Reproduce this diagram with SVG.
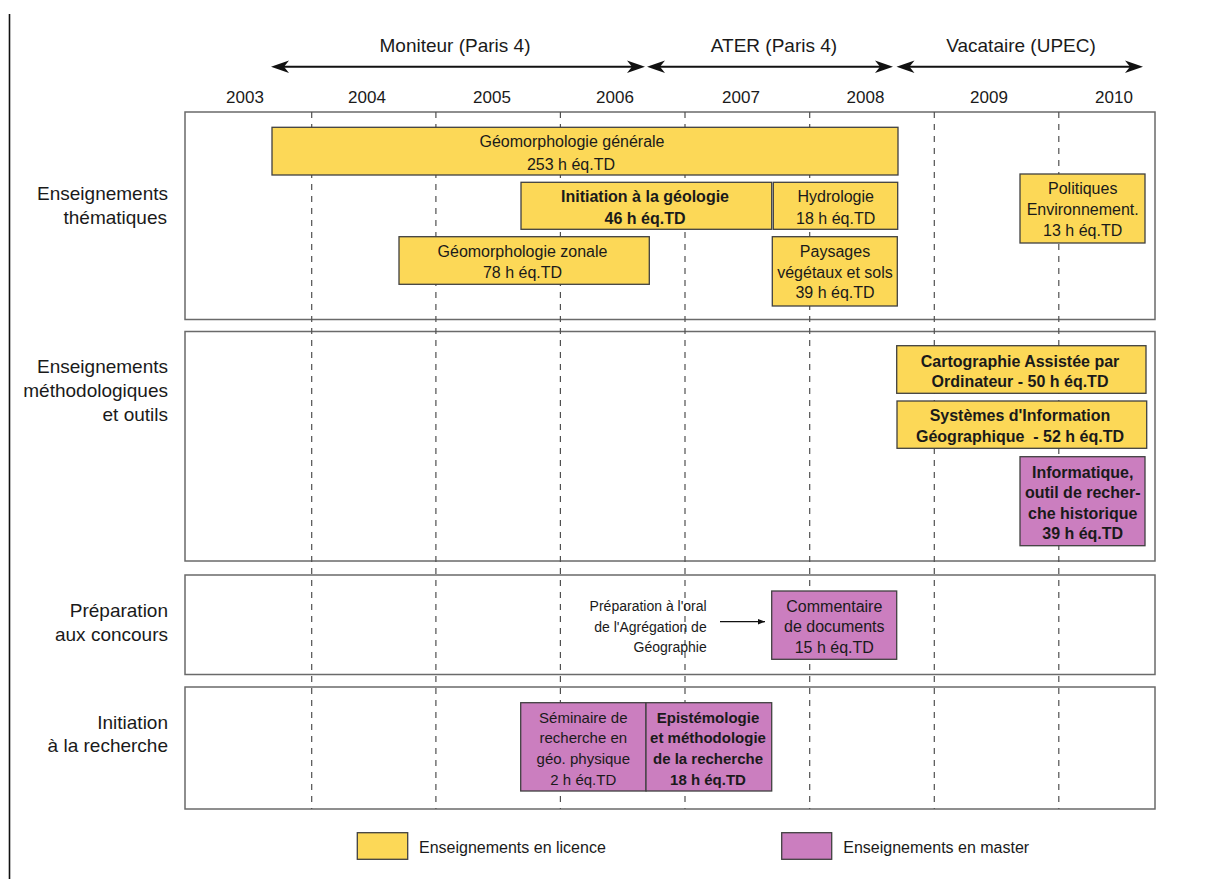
<svg xmlns="http://www.w3.org/2000/svg" width="1206" height="879" viewBox="0 0 1206 879">
<style>
text{font-family:"Liberation Sans",Arial,sans-serif;fill:#1a1a1a}
.yr{font-size:17px;text-anchor:middle}
.role{font-size:19px;text-anchor:middle}
.row{font-size:19px;text-anchor:end}
.t{font-size:16px;text-anchor:middle}
.t15{font-size:15px;text-anchor:middle}
.b{font-weight:bold}
.sm{font-size:14px;text-anchor:end}
.leg{font-size:16px}
.sec{fill:#fff;stroke:#6a6a6a;stroke-width:1.5}
.lic{fill:#FCD857;stroke:#404040;stroke-width:1.3}
.mas{fill:#CB7EBF;stroke:#404040;stroke-width:1.3}
.dash{stroke:#505050;stroke-width:1.2;stroke-dasharray:6 6}
.arr{stroke:#111;stroke-width:2}
</style>
<defs>
<marker id="sa" viewBox="0 0 10 10" refX="10" refY="5" markerWidth="7" markerHeight="7" markerUnits="userSpaceOnUse" orient="auto"><path d="M0,1 L10,5 L0,9 Z" fill="#111"/></marker>
</defs>
<rect width="1206" height="879" fill="#fff"/>
<line x1="9.5" y1="14" x2="9.5" y2="879" stroke="#111" stroke-width="1.6"/>

<g id="sections">
<rect class="sec" x="185" y="112" width="970" height="207.5"/>
<rect class="sec" x="185" y="331.5" width="970" height="229.5"/>
<rect class="sec" x="185" y="575" width="970" height="99.5"/>
<rect class="sec" x="185" y="687" width="970" height="122"/>
</g>

<g id="grid">
<line class="dash" x1="311.7" y1="112" x2="311.7" y2="809"/>
<line class="dash" x1="435.9" y1="112" x2="435.9" y2="809"/>
<line class="dash" x1="560.4" y1="112" x2="560.4" y2="809"/>
<line class="dash" x1="685" y1="112" x2="685" y2="809"/>
<line class="dash" x1="809.7" y1="112" x2="809.7" y2="809"/>
<line class="dash" x1="934.3" y1="112" x2="934.3" y2="809"/>
<line class="dash" x1="1058.8" y1="112" x2="1058.8" y2="809"/>
</g>

<g id="years">
<text class="yr" x="245" y="103">2003</text>
<text class="yr" x="367" y="103">2004</text>
<text class="yr" x="492" y="103">2005</text>
<text class="yr" x="615" y="103">2006</text>
<text class="yr" x="741" y="103">2007</text>
<text class="yr" x="865.5" y="103">2008</text>
<text class="yr" x="989" y="103">2009</text>
<text class="yr" x="1114" y="103">2010</text>
</g>

<g id="roles">
<text class="role" x="455" y="52">Moniteur (Paris 4)</text>
<text class="role" x="774" y="52">ATER (Paris 4)</text>
<text class="role" x="1021" y="52">Vacataire (UPEC)</text>
<line class="arr" x1="280" y1="66.7" x2="636" y2="66.7"/>
<path d="M271,66.7 L289,60.5 L284,66.7 L289,72.9 Z" fill="#111"/>
<path d="M645,66.7 L627,60.5 L632,66.7 L627,72.9 Z" fill="#111"/>
<line class="arr" x1="656" y1="66.7" x2="884" y2="66.7"/>
<path d="M647,66.7 L665,60.5 L660,66.7 L665,72.9 Z" fill="#111"/>
<path d="M893,66.7 L875,60.5 L880,66.7 L875,72.9 Z" fill="#111"/>
<line class="arr" x1="905" y1="66.7" x2="1134" y2="66.7"/>
<path d="M896.5,66.7 L914.5,60.5 L909.5,66.7 L914.5,72.9 Z" fill="#111"/>
<path d="M1143,66.7 L1125,60.5 L1130,66.7 L1125,72.9 Z" fill="#111"/>
</g>

<g id="rowlabels">
<text class="row" x="168" y="200">Enseignements</text>
<text class="row" x="167" y="224">thématiques</text>
<text class="row" x="168" y="373">Enseignements</text>
<text class="row" x="168" y="397">méthodologiques</text>
<text class="row" x="168" y="421">et outils</text>
<text class="row" x="168" y="617">Préparation</text>
<text class="row" x="168" y="641">aux concours</text>
<text class="row" x="168" y="729">Initiation</text>
<text class="row" x="168" y="752">à la recherche</text>
</g>

<g id="geomorph-generale">
<rect class="lic" x="272" y="127.3" width="626" height="47.7"/>
<text class="t" x="572" y="147">Géomorphologie générale</text>
<text class="t" x="571" y="169.5">253 h éq.TD</text>
</g>
<g id="initiation-geologie">
<rect class="lic" x="521" y="182.3" width="250.7" height="47"/>
<text class="t b" x="645" y="201.5">Initiation à la géologie</text>
<text class="t b" x="645" y="223.5">46 h éq.TD</text>
</g>
<g id="hydrologie">
<rect class="lic" x="773.3" y="182.3" width="124.4" height="47"/>
<text class="t" x="835.7" y="201.5">Hydrologie</text>
<text class="t" x="835.7" y="223.5">18 h éq.TD</text>
</g>
<g id="geomorph-zonale">
<rect class="lic" x="399" y="236.7" width="250.3" height="47.6"/>
<text class="t" x="522.5" y="257.3">Géomorphologie zonale</text>
<text class="t" x="522.5" y="278.3">78 h éq.TD</text>
</g>
<g id="paysages">
<rect class="lic" x="772.3" y="236.7" width="125" height="69.3"/>
<text class="t" x="835" y="256.7">Paysages</text>
<text class="t" x="835" y="277.7">végétaux et sols</text>
<text class="t" x="835" y="298.3">39 h éq.TD</text>
</g>
<g id="politiques">
<rect class="lic" x="1020" y="174" width="125" height="69"/>
<text class="t" x="1082.7" y="194">Politiques</text>
<text class="t" x="1082.7" y="215">Environnement.</text>
<text class="t" x="1082.7" y="235.7">13 h éq.TD</text>
</g>

<g id="cartographie">
<rect class="lic" x="896.7" y="345.7" width="249.3" height="47.6"/>
<text class="t b" x="1020" y="366.7">Cartographie Assistée par</text>
<text class="t b" x="1020" y="387.3">Ordinateur - 50 h éq.TD</text>
</g>
<g id="sig">
<rect class="lic" x="897" y="401" width="249.7" height="47.3"/>
<text class="t b" x="1020" y="421">Systèmes d'Information</text>
<text class="t b" x="1020" y="441.7" xml:space="preserve">Géographique  - 52 h éq.TD</text>
</g>
<g id="informatique">
<rect class="mas" x="1020" y="456.7" width="125" height="89"/>
<text class="t b" x="1082.7" y="477.7">Informatique,</text>
<text class="t b" x="1082.7" y="498.3">outil de recher-</text>
<text class="t b" x="1082.7" y="519">che historique</text>
<text class="t b" x="1082.7" y="539.3">39 h éq.TD</text>
</g>

<g id="agregation-note">
<text class="sm" x="706.7" y="611">Préparation à l'oral</text>
<text class="sm" x="706.7" y="631.7">de l'Agrégation de</text>
<text class="sm" x="706.7" y="651.7">Géographie</text>
</g>
<g id="commentaire">
<rect class="mas" x="771.7" y="591" width="125" height="68.3"/>
<text class="t" x="834.3" y="611.7">Commentaire</text>
<text class="t" x="834.3" y="632.3">de documents</text>
<text class="t" x="834.3" y="653.3">15 h éq.TD</text>
</g>

<g id="seminaire">
<rect class="mas" x="520.7" y="702.7" width="125.3" height="88.3"/>
<text class="t15" x="583.3" y="723.3">Séminaire de</text>
<text class="t15" x="583.3" y="743.3">recherche en</text>
<text class="t15" x="583.3" y="764.3">géo. physique</text>
<text class="t15" x="583.3" y="785">2 h éq.TD</text>
</g>
<g id="epistemologie">
<rect class="mas" x="646" y="702.7" width="125.7" height="88.3"/>
<text class="t15 b" x="708" y="723.3">Epistémologie</text>
<text class="t15 b" x="708" y="743.3">et méthodologie</text>
<text class="t15 b" x="708" y="764.3">de la recherche</text>
<text class="t15 b" x="708" y="785">18 h éq.TD</text>
</g>

<g id="connectors">
<line x1="720" y1="621.7" x2="765" y2="621.7" stroke="#111" stroke-width="1.2" marker-end="url(#sa)"/>
</g>

<g id="legend">
<rect class="lic" x="357.3" y="832.7" width="50.4" height="26.6"/>
<text class="leg" x="419" y="852.5">Enseignements en licence</text>
<rect class="mas" x="781.7" y="832.7" width="50" height="26.6"/>
<text class="leg" x="843.3" y="852.5">Enseignements en master</text>
</g>
</svg>
